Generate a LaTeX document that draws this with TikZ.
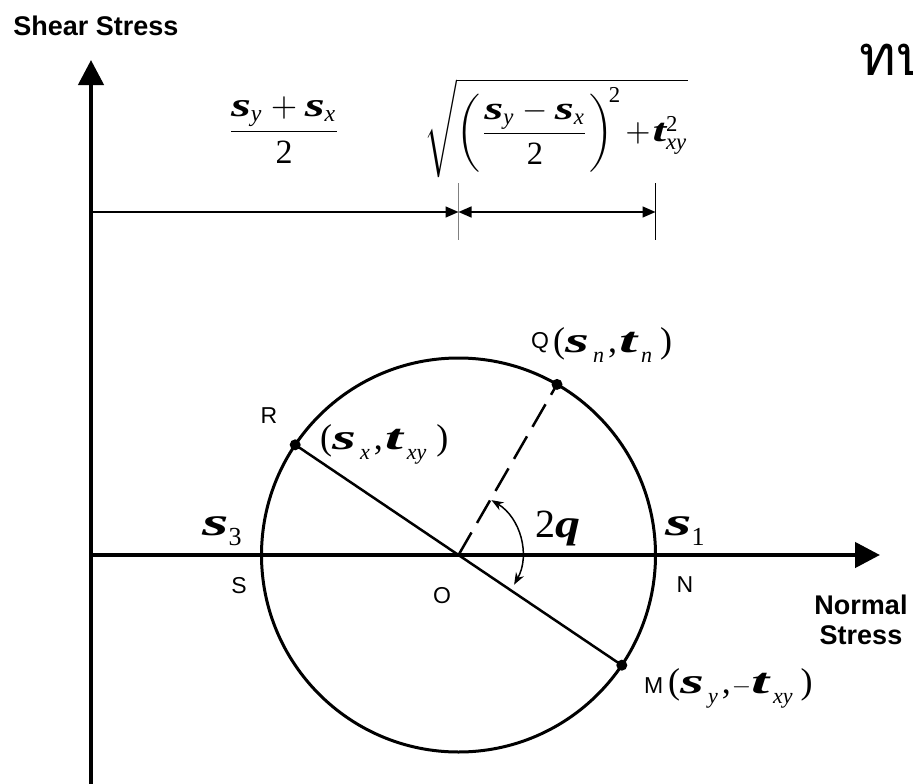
\documentclass[tikz,border=0pt]{standalone}
\usepackage{amsmath}
\usepackage{graphicx}
\usepackage{fontspec}
\setmainfont{Liberation Serif}
\setsansfont{Liberation Sans}
\newfontfamily\thaifont[Script=Thai]{Loma}
\usetikzlibrary{arrows.meta,calc}
\newcommand{\Sg}{\scalebox{1.7}[1]{\bfseries\itshape s}}
\newcommand{\Tg}{\scalebox{1.8}[1]{\bfseries\itshape t}}
\newcommand{\Qg}{\scalebox{1.25}[1]{\bfseries\itshape q}}
\newcommand{\lsub}[1]{\kern4pt\raisebox{-10pt}{\fontsize{22}{22}\selectfont\itshape #1}}
\newcommand{\ms}{\text{\scalebox{1.5}[1]{\bfseries\itshape s}}}
\newcommand{\mt}{\text{\scalebox{1.5}[1]{\bfseries\itshape t}}}
\newcommand{\mi}[1]{\text{\itshape #1}}
\begin{document}
\begin{tikzpicture}[x=1pt,y=-1pt,
  axisline/.style={line width=4.5pt,-{Triangle[length=25pt,width=25pt]}},
  dimline/.style={line width=1.5pt},
  dimtip/.style={-{Triangle[length=13pt,width=11pt]}},
  dimtips/.style={{Triangle[length=13pt,width=11pt]}-{Triangle[length=13pt,width=11pt]}},
  ticka/.style={line width=1pt,gray},
  tickb/.style={line width=1.3pt},
  circ/.style={line width=3pt},
  diam/.style={line width=2.5pt},
  dashl/.style={line width=2.5pt,dash pattern=on 26pt off 11pt},
  angarr/.style={line width=1.5pt,{Stealth[length=12pt,width=9pt]}-{Stealth[length=12pt,width=9pt]}},
  dot/.style={circle,fill=black,inner sep=0pt,minimum size=11pt},
  lab/.style={font=\sffamily\fontsize{23}{23}\selectfont,inner sep=0pt},
  ttl/.style={font=\sffamily\bfseries\fontsize{27}{30}\selectfont,inner sep=0pt,align=center},
  expr/.style={font=\fontsize{36}{36}\selectfont,inner sep=0pt,anchor=base west},
  math/.style={inner sep=0pt}
]
\useasboundingbox (0,0) rectangle (913,784);
% coordinates
\coordinate (O) at (458.5,555);
\coordinate (yb) at (91,784);
\coordinate (yt) at (91,60);
\coordinate (xl) at (91,555);
\coordinate (xr) at (880,555);
\coordinate (R) at (295.2,444.8);
\coordinate (M) at (621.8,665.2);
\coordinate (Q) at (557,384.4);
\coordinate (dA) at (91,212);
\coordinate (dB) at (458.5,212);
\coordinate (dC) at (655.5,212);
\coordinate (tBa) at (458.5,183);
\coordinate (tBb) at (458.5,240);
\coordinate (tCa) at (655.5,183);
\coordinate (tCb) at (655.5,240);
% axes
\draw[axisline] (yb) -- (yt);
\draw[axisline] (xl) -- (xr);
% circle
\draw[circ] (O) circle[radius=197];
% diameter and dashed line
\draw[diam] (R) -- (M);
\draw[dashl] (O) -- (Q);
\node[dot] (Rd) at (R) {};
\node[dot] (Md) at (M) {};
\node[dot] (Qd) at (Q) {};
% angle arc
\coordinate (a1) at ($(O)+(-59:64)$);
\draw[angarr] (a1) arc[start angle=-59,end angle=29,radius=63];
% dimension lines
\draw[ticka] (tBa) -- (tBb);
\draw[tickb] (tCa) -- (tCb);
\draw[dimline,dimtip] (dA) -- (dB);
\draw[dimline,dimtips] (dB) -- (dC);
% formulas
\node[math] (f1) at (284,130) {\scalebox{3.4}{$\dfrac{\ms_{\mi{y}}+\ms_{\mi{x}}}{\text{2}}$}};
\node[math] (f2) at (556,128) {\scalebox{3.25}{$\sqrt{\left(\dfrac{\ms_{\mi{y}}-\ms_{\mi{x}}}{\text{2}}\right)^{\!\text{2}}\mkern-2mu+\mkern-3mu\mt^{\text{2}}_{\mi{xy}}}$}};
% titles
\node[ttl] (ts) at (96,26) {Shear Stress};
\node[ttl] (tn) at (861,620) {Normal\\Stress};
% letter labels
\node[lab] (lR) at (269,416) {R};
\node[lab] (lS) at (239,586) {S};
\node[lab] (lO) at (442,596) {O};
\node[lab] (lN) at (685,585) {N};
\node[lab,anchor=base west] (lQ) at (531,348) {Q};
\node[lab,anchor=base west] (lM) at (644,693) {M};
% point expressions
\node[expr] (eR) at (320,449) {(\Sg\lsub{x}\kern4pt,\kern2pt\Tg\lsub{xy}\kern10pt)};
\node[expr] (eQ) at (553,352) {(\Sg\lsub{n}\kern4pt,\kern2pt\Tg\lsub{n}\kern8pt)};
\node[expr] (eM) at (668,693) {(\Sg\lsub{y}\kern4pt,\kern1pt$-$\Tg\lsub{xy}\kern8pt)};
% principal stresses
\node[expr,font=\fontsize{40}{40}\selectfont] (s3) at (202,535) {\Sg\raisebox{-10pt}{\fontsize{26}{26}\selectfont 3}};
\node[expr,font=\fontsize{40}{40}\selectfont] (s1) at (665,535) {\Sg\raisebox{-10pt}{\fontsize{26}{26}\selectfont 1}};
\node[expr,font=\fontsize{40}{40}\selectfont] (tq) at (535,537) {2\Qg};
% thai (cut off at the right edge, as in the reference)
\node[anchor=base west,inner sep=0pt,font=\thaifont\fontsize{56}{56}\selectfont] (th) at (859,75) {ทบ};
\end{tikzpicture}
\end{document}
